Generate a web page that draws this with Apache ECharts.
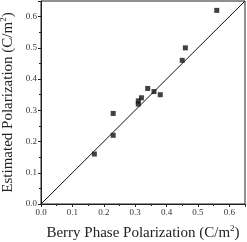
<!DOCTYPE html>
<html><head><meta charset="utf-8">
<script src="https://cdn.jsdelivr.net/npm/echarts@6/dist/echarts.min.js"></script>
<style>html,body{margin:0;padding:0;background:#fff}#c{width:247px;height:242px}</style>
</head><body><div id="c"></div>
<script>
var berryPhase = [0.17, 0.23, 0.23, 0.31, 0.31, 0.32, 0.34, 0.36, 0.38, 0.45, 0.46, 0.56];
var estimated  = [0.16, 0.22, 0.29, 0.33, 0.32, 0.34, 0.37, 0.36, 0.35, 0.46, 0.50, 0.62];
var diagonalX = [0, 0.65];
var diagonalY = [0, 0.65];
var axisMin = 0, axisMax = 0.65, axisStep = 0.1;
var xTitle = 'Berry Phase Polarization (C/m{sup|2})';
var yTitle = 'Estimated Polarization (C/m{sup|2})';

var font = 'Liberation Serif';
function axisCfg(name, gap) {
  return {
    type: 'value', min: axisMin, max: axisMax, interval: axisStep,
    name: name, nameLocation: 'middle', nameGap: gap, nameMoveOverlap: false,
    nameTextStyle: {fontFamily: font, fontSize: 15, color: '#222',
      rich: {sup: {fontFamily: font, fontSize: 9, color: '#222', padding: [0,0,10,0]}}},
    axisLine: {show: true, lineStyle: {color: '#222', width: 1}},
    axisTick: {show: true, length: 3, inside: false, lineStyle: {color: '#222'}},
    minorTick: {show: true, splitNumber: 2, length: 2, lineStyle: {color: '#222'}},
    splitLine: {show: false},
    axisLabel: {fontFamily: font, fontSize: 9, color: '#333', margin: 4, showMaxLabel: false,
      formatter: function (v) { return v.toFixed(1); }}
  };
}
var chart = echarts.init(document.getElementById('c'), null, {renderer: 'canvas'});
chart.setOption({
  animation: false,
  grid: {left: 41, right: 2, top: 1, bottom: 38, outerBoundsMode: 'none', containLabel: false,
         show: true, borderColor: '#222', borderWidth: 1},
  xAxis: axisCfg(xTitle, 20),
  yAxis: axisCfg(yTitle, 23),
  series: [
    {type: 'line', data: diagonalX.map(function (x, i) { return [x, diagonalY[i]]; }),
     symbol: 'none', lineStyle: {color: '#111', width: 1}, z: 1},
    {type: 'scatter', data: berryPhase.map(function (x, i) { return [x, estimated[i]]; }),
     symbol: 'rect', symbolSize: 5, itemStyle: {color: '#111'}, z: 2}
  ]
});
</script></body></html>
